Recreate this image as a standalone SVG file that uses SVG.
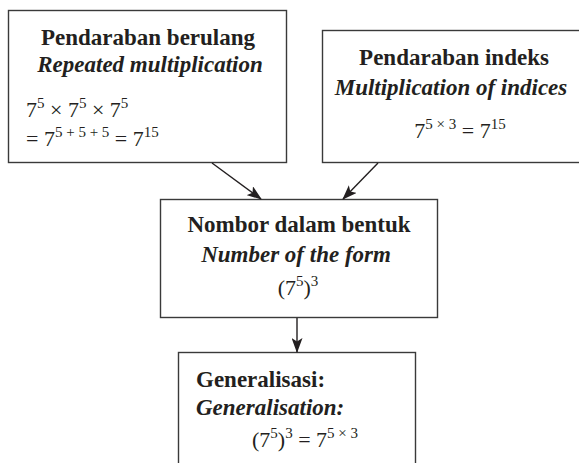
<svg xmlns="http://www.w3.org/2000/svg" width="579" height="463" viewBox="0 0 579 463">
<style>
.box{fill:#fff;stroke:#3a3a3a;stroke-width:1.4}
.t{font-family:"Liberation Serif","Times New Roman",serif;fill:#231f20}
.b{font-weight:bold;font-size:23px}
.bi{font-weight:bold;font-style:italic;font-size:23px}
.m{font-size:22px}
.s{font-size:15px}
.c{text-anchor:middle}
.con{stroke:#231f20;stroke-width:1.4;fill:none}
</style>
<defs>
<marker id="ah" viewBox="0 0 15 11" refX="14" refY="5.5" markerWidth="15" markerHeight="11" markerUnits="userSpaceOnUse" orient="auto">
<path d="M0,0 L15,5.5 L0,11 L3.5,5.5 Z" fill="#231f20"/>
</marker>
</defs>
<rect width="579" height="463" fill="#fff"/>
<g id="node-repeated">
<rect class="box" x="8.5" y="10.5" width="278" height="152"/>
<text class="t b c" x="148" y="45">Pendaraban berulang</text>
<text class="t bi c" x="150" y="72">Repeated multiplication</text>
<text class="t m" x="26" y="117">7<tspan class="s" dy="-9">5</tspan><tspan dy="9"> × 7</tspan><tspan class="s" dy="-9">5</tspan><tspan dy="9"> × 7</tspan><tspan class="s" dy="-9">5</tspan></text>
<text class="t m" x="26" y="146">= 7<tspan class="s" dy="-9">5 + 5 + 5</tspan><tspan dy="9"> = 7</tspan><tspan class="s" dy="-9">15</tspan></text>
</g>
<g id="node-indices">
<rect class="box" x="322.5" y="30.5" width="280" height="132"/>
<text class="t b c" x="454" y="65">Pendaraban indeks</text>
<text class="t bi c" x="451" y="95">Multiplication of indices</text>
<text class="t m c" x="460" y="138">7<tspan class="s" dy="-9">5 × 3</tspan><tspan dy="9"> = 7</tspan><tspan class="s" dy="-9">15</tspan></text>
</g>
<g id="node-form">
<rect class="box" x="160.5" y="199.5" width="277" height="118"/>
<text class="t b c" x="299" y="232">Nombor dalam bentuk</text>
<text class="t bi c" x="296" y="262">Number of the form</text>
<text class="t m c" x="298" y="295">(7<tspan class="s" dy="-9">5</tspan><tspan dy="9">)</tspan><tspan class="s" dy="-9">3</tspan></text>
</g>
<g id="node-general">
<rect class="box" x="178.5" y="352.5" width="237" height="130"/>
<text class="t b" x="196" y="387">Generalisasi:</text>
<text class="t bi" x="196" y="415">Generalisation:</text>
<text class="t m c" x="305" y="447">(7<tspan class="s" dy="-9">5</tspan><tspan dy="9">)</tspan><tspan class="s" dy="-9">3</tspan><tspan dy="9"> = 7</tspan><tspan class="s" dy="-9">5 × 3</tspan></text>
</g>
<g id="connectors">
<line class="con" x1="212" y1="163" x2="261" y2="199" marker-end="url(#ah)"/>
<line class="con" x1="378" y1="163" x2="343" y2="199" marker-end="url(#ah)"/>
<line class="con" x1="297" y1="318" x2="297" y2="352" marker-end="url(#ah)"/>
</g>
</svg>
